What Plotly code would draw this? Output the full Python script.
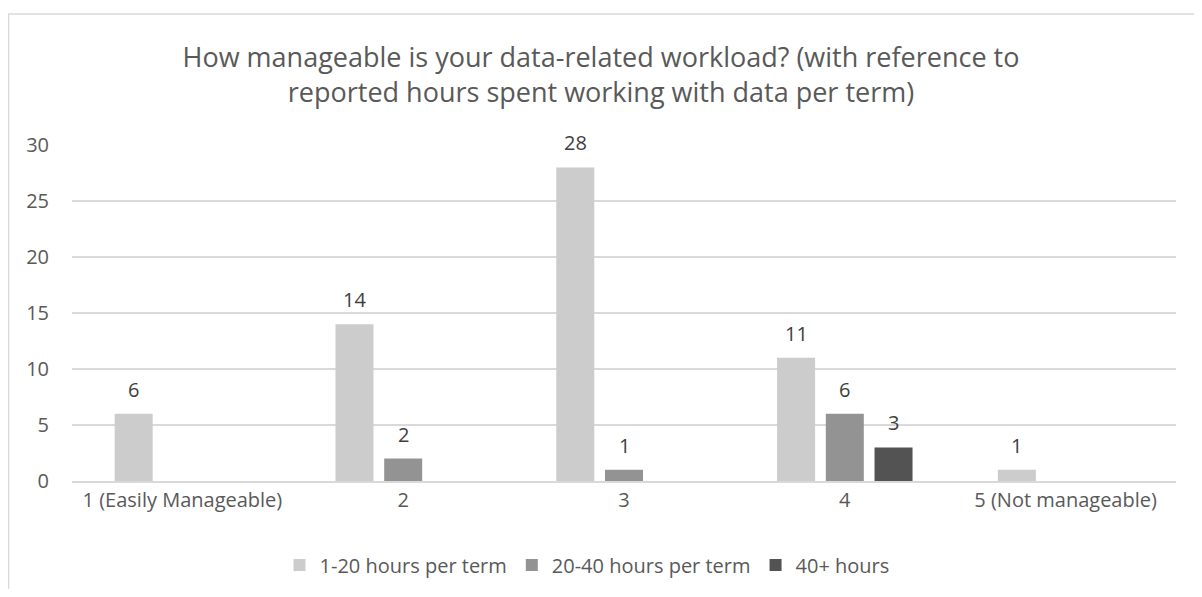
import plotly.graph_objects as go

categories = ["1 (Easily Manageable)", "2", "3", "4", "5 (Not manageable)"]
hours_1_20 = [6, 14, 28, 11, 1]
hours_20_40 = [None, 2, 1, 6, None]
hours_40_plus = [None, None, None, 3, None]

series = [
    ("1-20 hours per term", hours_1_20, "#cccccc"),
    ("20-40 hours per term", hours_20_40, "#939393"),
    ("40+ hours", hours_40_plus, "#535353"),
]

# page body has an 8px margin, so the figure is a bit smaller than the window
W, H = 1186, 581
L, R, T, B = 64, 18, 137, 108
bargap = 0.338
slot = (W - L - R) / len(categories) * (1 - bargap) / len(series)

fig = go.Figure()
annotations = []
for j, (name, vals, color) in enumerate(series):
    fig.add_trace(go.Bar(
        x=categories, y=vals, name=name,
        marker=dict(color=color, line=dict(width=0)),
    ))
    for i, v in enumerate(vals):
        if v is None:
            continue
        # category axis: use the category index so "2", "3"... are not read as numbers
        annotations.append(dict(
            x=i, y=v, xref="x", yref="y", text=str(v), showarrow=False,
            xshift=(j - 1) * slot, yanchor="bottom", yshift=9,
            font=dict(size=20, color="#404040"),
        ))

fig.update_layout(
    width=W, height=H,
    margin=dict(l=L, r=R, t=T, b=B, autoexpand=False),
    paper_bgcolor="white", plot_bgcolor="white",
    font=dict(family="Open Sans", size=20, color="#595959"),
    title=dict(
        text="How manageable is your data-related workload? (with reference to<br>reported hours spent working with data per term)",
        x=0.5, xanchor="center", y=1 - 59 / H, yanchor="middle",
        font=dict(size=27, color="#595959"),
    ),
    barmode="group", bargap=bargap, bargroupgap=0.22,
    showlegend=True,
    legend=dict(orientation="h", x=0.4665, xanchor="center", y=-0.25, yanchor="middle",
                font=dict(size=20, color="#595959"), traceorder="normal"),
    xaxis=dict(showgrid=False, showline=True, linecolor="#d9d9d9", linewidth=2,
               ticks="", tickfont=dict(size=20, color="#595959")),
    yaxis=dict(range=[0, 30], dtick=5, showgrid=True, gridcolor="#d9d9d9", gridwidth=2,
               zeroline=False, showline=False, ticks="", ticklabelstandoff=22,
               tickfont=dict(size=20, color="#595959")),
    annotations=annotations,
    shapes=[dict(type="rect", xref="paper", yref="paper",
                 x0=(0.5 - L) / (W - L - R), x1=1.2, y0=-0.6, y1=(H - B - 6) / (H - T - B),
                 line=dict(color="#d9d9d9", width=1.5), fillcolor="rgba(0,0,0,0)")],
)

fig.write_html("out.html")
